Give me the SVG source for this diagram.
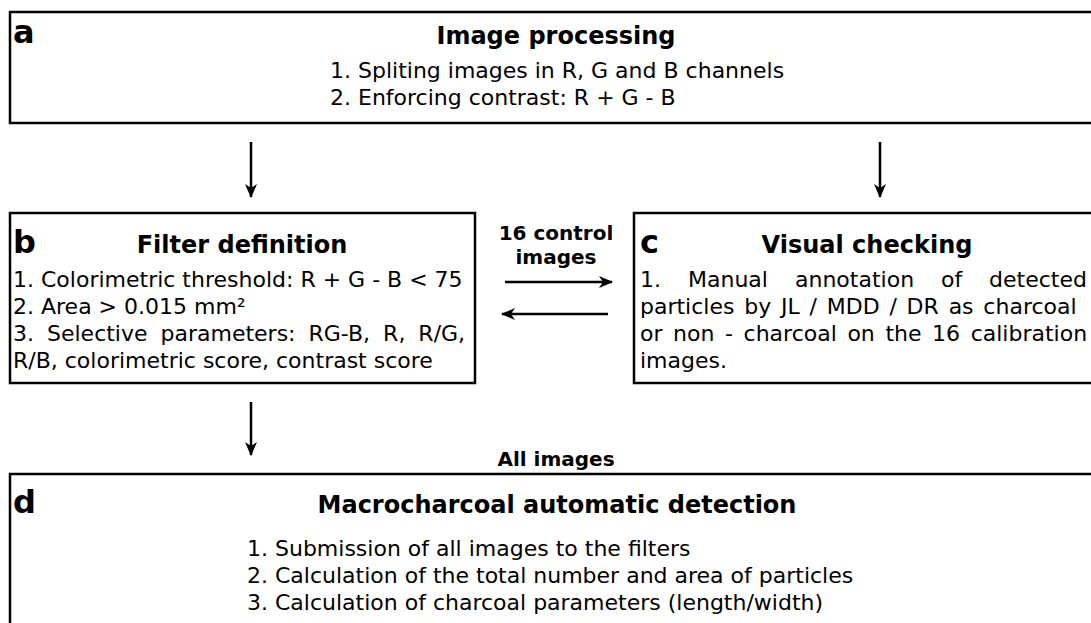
<svg xmlns="http://www.w3.org/2000/svg" width="1091" height="623" viewBox="0 0 1091 623">
<defs>
<style>
.box{fill:#fff;stroke:#000;stroke-width:2.5}
.lbl{font-family:"DejaVu Sans",sans-serif;font-weight:bold;font-size:32px;fill:#000}
.ttl{font-family:"DejaVu Sans",sans-serif;font-weight:bold;font-size:24px;fill:#000;text-anchor:middle}
.txt{font-family:"DejaVu Sans",sans-serif;font-size:22px;fill:#000}
.cl{font-family:"DejaVu Sans",sans-serif;font-weight:bold;font-size:20px;fill:#000;text-anchor:middle}
.con{stroke:#000;stroke-width:2.5;fill:none}
</style>
<marker id="ah" viewBox="0 0 14 12" refX="13" refY="6" markerWidth="14" markerHeight="12" markerUnits="userSpaceOnUse" orient="auto">
<path d="M0,0 L14,6 L0,12 L4,6 Z" fill="#000"/>
</marker>
</defs>
<rect width="1091" height="623" fill="#fff"/>
<g id="node-a">
<rect class="box" x="10" y="12" width="1100" height="111"/>
<text class="lbl" x="13" y="43">a</text>
<text class="ttl" x="556" y="44">Image processing</text>
<text class="txt" x="330" y="78">1. Spliting images in R, G and B channels</text>
<text class="txt" x="330" y="105">2. Enforcing contrast: R + G - B</text>
</g>
<g id="node-b">
<rect class="box" x="10" y="213" width="465" height="170"/>
<text class="lbl" x="13" y="253">b</text>
<text class="ttl" x="242" y="253">Filter definition</text>
<text class="txt" x="13" y="287">1. Colorimetric threshold: R + G - B &lt; 75</text>
<text class="txt" x="13" y="314">2. Area &gt; 0.015 mm²</text>
<text class="txt" x="13" y="341" word-spacing="6">3. Selective parameters: RG-B, R, R/G,</text>
<text class="txt" x="13" y="368">R/B, colorimetric score, contrast score</text>
</g>
<g id="node-c">
<rect class="box" x="634" y="213" width="480" height="170"/>
<text class="lbl" x="640" y="253">c</text>
<text class="ttl" x="867" y="253">Visual checking</text>
<text class="txt" y="287"><tspan x="640">1.</tspan><tspan x="688">Manual</tspan><tspan x="795">annotation</tspan><tspan x="941">of</tspan><tspan x="1087" text-anchor="end">detected</tspan></text>
<text class="txt" x="640" y="314" word-spacing="2.8">particles by JL / MDD / DR as charcoal</text>
<text class="txt" x="640" y="341" word-spacing="3.6">or non - charcoal on the 16 calibration</text>
<text class="txt" x="640" y="368">images.</text>
</g>
<g id="node-d">
<rect class="box" x="10" y="474" width="1100" height="200"/>
<text class="lbl" x="13" y="513">d</text>
<text class="ttl" x="557" y="513">Macrocharcoal automatic detection</text>
<text class="txt" x="247" y="556">1. Submission of all images to the filters</text>
<text class="txt" x="247" y="583">2. Calculation of the total number and area of particles</text>
<text class="txt" x="247" y="610">3. Calculation of charcoal parameters (length/width)</text>
</g>
<g id="connectors">
<line class="con" x1="251" y1="142" x2="251" y2="197" marker-end="url(#ah)"/>
<line class="con" x1="880" y1="142" x2="880" y2="197" marker-end="url(#ah)"/>
<line class="con" x1="505" y1="282" x2="612" y2="282" marker-end="url(#ah)"/>
<line class="con" x1="608" y1="314" x2="502" y2="314" marker-end="url(#ah)"/>
<line class="con" x1="251" y1="402" x2="251" y2="455" marker-end="url(#ah)"/>
<text class="cl" x="556" y="240">16 control</text>
<text class="cl" x="556" y="264">images</text>
<text class="cl" x="556" y="466">All images</text>
</g>
</svg>
